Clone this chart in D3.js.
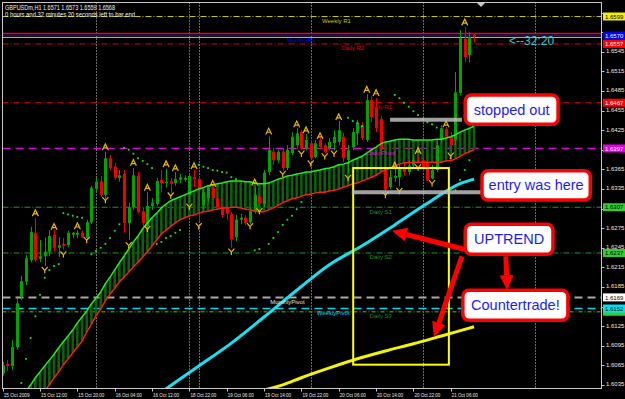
<!DOCTYPE html>
<html>
<head>
<meta charset="utf-8">
<script src="https://cdn.jsdelivr.net/npm/d3@7/dist/d3.min.js"></script>
<style>
body { margin: 0; background: #000; }
svg { display: block; }
</style>
</head>
<body>
<div id="chart1"></div>
<script>
// GBPUSDm H1, bars 15 Oct 04:00 .. 21 Oct 11:00  [open, high, low, close]
var bars = [
	[1.6053,1.6070,1.6049,1.6065],[1.6067,1.6073,1.6056,1.6064],[1.6064,1.6104,1.6058,1.6093],[1.6093,1.6168,1.6089,1.6160],
	[1.6170,1.6202,1.6165,1.6194],[1.6193,1.6234,1.6188,1.6229],[1.6226,1.6277,1.6223,1.6269],[1.6268,1.6291,1.6223,1.6226],
	[1.6228,1.6257,1.6223,1.6232],[1.6232,1.6261,1.6217,1.6239],[1.6239,1.6272,1.6232,1.6263],[1.6265,1.6272,1.6239,1.6245],
	[1.6245,1.6261,1.6231,1.6249],[1.6251,1.6260,1.6242,1.6248],[1.6249,1.6271,1.6246,1.6268],[1.6265,1.6269,1.6260,1.6268],
	[1.6265,1.6272,1.6260,1.6268],[1.6268,1.6271,1.6260,1.6261],[1.6260,1.6288,1.6257,1.6284],[1.6284,1.6340,1.6281,1.6337],
	[1.6335,1.6352,1.6330,1.6346],[1.6347,1.6355,1.6323,1.6326],[1.6326,1.6392,1.6320,1.6382],[1.6382,1.6387,1.6364,1.6367],
	[1.6369,1.6375,1.6349,1.6352],[1.6352,1.6364,1.6346,1.6356],[1.6358,1.6364,1.6268,1.6283],[1.6283,1.6314,1.6257,1.6307],
	[1.6307,1.6367,1.6303,1.6356],[1.6355,1.6361,1.6297,1.6300],[1.6301,1.6306,1.6278,1.6283],[1.6278,1.6330,1.6275,1.6309],
	[1.6309,1.6321,1.6303,1.6314],[1.6312,1.6352,1.6309,1.6347],[1.6349,1.6364,1.6330,1.6344],[1.6344,1.6366,1.6337,1.6346],
	[1.6347,1.6352,1.6329,1.6343],[1.6344,1.6361,1.6340,1.6350],[1.6349,1.6358,1.6344,1.6353],[1.6349,1.6356,1.6346,1.6352],
	[1.6326,1.6358,1.6314,1.6355],[1.6353,1.6364,1.6338,1.6350],[1.6350,1.6355,1.6286,1.6334],[1.6310,1.6335,1.6303,1.6330],
	[1.6321,1.6341,1.6315,1.6337],[1.6337,1.6338,1.6318,1.6321],[1.6321,1.6330,1.6303,1.6307],[1.6307,1.6310,1.6291,1.6295],
	[1.6307,1.6310,1.6288,1.6297],[1.6297,1.6300,1.6245,1.6258],[1.6261,1.6295,1.6255,1.6288],[1.6288,1.6297,1.6281,1.6291],
	[1.6291,1.6295,1.6280,1.6283],[1.6284,1.6307,1.6281,1.6301],[1.6301,1.6337,1.6297,1.6326],[1.6324,1.6327,1.6307,1.6313],
	[1.6312,1.6364,1.6307,1.6360],[1.6361,1.6415,1.6356,1.6395],[1.6392,1.6398,1.6372,1.6379],[1.6379,1.6395,1.6375,1.6392],
	[1.6392,1.6398,1.6363,1.6367],[1.6367,1.6402,1.6364,1.6395],[1.6390,1.6422,1.6387,1.6415],[1.6402,1.6428,1.6397,1.6420],
	[1.6422,1.6425,1.6394,1.6397],[1.6397,1.6419,1.6394,1.6410],[1.6405,1.6410,1.6379,1.6382],[1.6384,1.6410,1.6382,1.6405],
	[1.6410,1.6413,1.6396,1.6399],[1.6402,1.6405,1.6390,1.6391],[1.6397,1.6413,1.6394,1.6407],[1.6405,1.6425,1.6394,1.6415],
	[1.6407,1.6439,1.6402,1.6425],[1.6415,1.6421,1.6376,1.6382],[1.6379,1.6402,1.6359,1.6394],[1.6399,1.6428,1.6394,1.6422],
	[1.6420,1.6441,1.6402,1.6436],[1.6433,1.6437,1.6410,1.6413],[1.6410,1.6480,1.6407,1.6471],[1.6471,1.6477,1.6437,1.6445],
	[1.6460,1.6474,1.6422,1.6428],[1.6442,1.6447,1.6387,1.6395],[1.6364,1.6395,1.6332,1.6334],[1.6338,1.6364,1.6335,1.6353],
	[1.6352,1.6366,1.6346,1.6355],[1.6353,1.6372,1.6339,1.6368],[1.6368,1.6376,1.6355,1.6361],[1.6361,1.6379,1.6356,1.6371],
	[1.6371,1.6387,1.6367,1.6379],[1.6379,1.6385,1.6375,1.6378],[1.6379,1.6382,1.6361,1.6367],[1.6376,1.6384,1.6347,1.6348],
	[1.6351,1.6372,1.6350,1.6364],[1.6364,1.6410,1.6361,1.6402],[1.6410,1.6433,1.6406,1.6428],[1.6427,1.6430,1.6410,1.6415],
	[1.6415,1.6422,1.6393,1.6402],[1.6410,1.6514,1.6402,1.6483],[1.6482,1.6578,1.6478,1.6566],[1.6565,1.6583,1.6529,1.6537],
	[1.6540,1.6575,1.6529,1.6568],[1.6571,1.6573,1.6559,1.6568]
];

// envelope (green upper / red lower), one value per bar
var upperBand = [1.5980,1.5989,1.5998,1.6007,1.6017,1.6026,1.6035,1.6046,1.6055,1.6064,1.6073,1.6082,1.6092,1.6101,1.6110,1.6119,
	1.6130,1.6139,1.6148,1.6159,1.6168,1.6177,1.6190,1.6200,1.6211,1.6222,1.6232,1.6243,1.6254,1.6263,1.6274,1.6283,
	1.6291,1.6298,1.6306,1.6312,1.6317,1.6320,1.6323,1.6326,1.6329,1.6332,1.6335,1.6337,1.6340,1.6341,1.6343,1.6344,
	1.6346,1.6347,1.6347,1.6347,1.6346,1.6346,1.6344,1.6343,1.6343,1.6344,1.6347,1.6350,1.6352,1.6355,1.6356,1.6358,
	1.6359,1.6361,1.6361,1.6363,1.6364,1.6366,1.6367,1.6369,1.6372,1.6373,1.6375,1.6379,1.6382,1.6385,1.6390,1.6395,
	1.6399,1.6404,1.6407,1.6408,1.6410,1.6411,1.6411,1.6411,1.6410,1.6410,1.6410,1.6410,1.6410,1.6411,1.6411,1.6413,
	1.6415,1.6418,1.6422,1.6425,1.6428,1.6431];
var lowerBand = [1.5935,1.5946,1.5955,1.5966,1.5975,1.5986,1.5995,1.6006,1.6015,1.6026,1.6035,1.6046,1.6055,1.6066,1.6075,1.6084,
	1.6093,1.6102,1.6116,1.6128,1.6141,1.6151,1.6164,1.6174,1.6183,1.6193,1.6200,1.6208,1.6216,1.6223,1.6231,1.6239,
	1.6248,1.6257,1.6266,1.6272,1.6278,1.6283,1.6288,1.6291,1.6294,1.6295,1.6298,1.6300,1.6301,1.6303,1.6304,1.6306,
	1.6306,1.6307,1.6307,1.6306,1.6304,1.6303,1.6301,1.6300,1.6300,1.6303,1.6306,1.6310,1.6314,1.6317,1.6320,1.6321,
	1.6324,1.6326,1.6327,1.6329,1.6330,1.6330,1.6332,1.6333,1.6335,1.6338,1.6340,1.6343,1.6344,1.6347,1.6350,1.6353,
	1.6356,1.6361,1.6364,1.6367,1.6370,1.6373,1.6375,1.6375,1.6376,1.6376,1.6376,1.6376,1.6376,1.6376,1.6376,1.6378,
	1.6378,1.6381,1.6385,1.6389,1.6392,1.6395];

// slow moving averages, read at sample bars
var cyanBars = [34, 42, 49, 56, 63, 70, 77, 84, 91, 98, 101];
var cyanMa   = [1.6024, 1.6064, 1.6099, 1.6139, 1.6180, 1.6219, 1.6248, 1.6280, 1.6313, 1.6343, 1.6350];
var yellowBars = [52, 56, 60, 64, 70, 76, 82, 88, 94, 101];
var yellowMa   = [1.6019, 1.6027, 1.6035, 1.6046, 1.6061, 1.6075, 1.6087, 1.6098, 1.6110, 1.6124];

// parabolic SAR dots
var sarBars = [4,5,6,7,8,9,10,11,12, 13,14,15,16,17, 19,20,21,22,23,24,25, 26,27,28,29,30,31,32,
	33,34,35,36,37,38, 42,43,44,45,46,47,48,49,50, 54,55,57,58,59,60,61,62,63,64,
	74,75,76,77, 84,85,86,87,88,89,90,91,92,93, 97,98,99,100];
var sarVals = [1.6038,1.6075,1.6107,1.6140,1.6173,1.6199,1.6211,1.6217,1.6220, 1.6298,1.6296,1.6294,1.6292,1.6291,
	1.6235,1.6240,1.6245,1.6251,1.6260,1.6271,1.6281, 1.6398,1.6395,1.6389,1.6382,1.6378,1.6373,1.6367,
	1.6251,1.6254,1.6260,1.6263,1.6268,1.6272, 1.6372,1.6369,1.6367,1.6364,1.6363,1.6361,1.6360,1.6353,1.6350,
	1.6241,1.6243,1.6251,1.6260,1.6269,1.6280,1.6288,1.6294,1.6304,1.6315,
	1.6444,1.6439,1.6436,1.6431, 1.6479,1.6474,1.6467,1.6461,1.6454,1.6448,1.6442,1.6437,1.6434,1.6429,
	1.6333,1.6349,1.6364,1.6379];

// fractal arrows [bar, price]
var fractalUp = [[7,1.6298],[11,1.6277],[16,1.6278],[22,1.6399],[28,1.6375],[31,1.6337],[35,1.6373],[37,1.6367],
	[41,1.6370],[45,1.6343],[54,1.6345],[57,1.6423],[63,1.6434],[65,1.6425],[68,1.6416],[72,1.6445],
	[78,1.6487],[80,1.6482],[84,1.6371],[89,1.6393],[95,1.6434],[99,1.6590]];
var fractalDown = [[9,1.6211],[13,1.6235],[18,1.6257],[22,1.6318],[27,1.6249],[31,1.6274],[36,1.6325],[40,1.6308],
	[42,1.6278],[49,1.6239],[53,1.6278],[55,1.6301],[60,1.6358],[64,1.6389],[66,1.6374],[69,1.6385],
	[71,1.6389],[74,1.6352],[82,1.6326],[85,1.6332],[89,1.6368],[92,1.6344],[96,1.6386]];

// pivot levels and price lines
var levelNames  = ["Weekly R1", "Ask", "MonthlyR1", "Bid", "Daily R2", "Daily R1", "Daily Pivot", "Daily S1", "Daily S2", "MonthlyPivot", "Daily S3", "WeeklyPivot"];
var levelPrices = [1.6599, 1.6573, 1.6570, 1.6567, 1.6557, 1.6467, 1.6397, 1.6307, 1.6237, 1.6169, 1.6147, 1.6152];

var priceTicks = [1.6605,1.6575,1.6545,1.6515,1.6485,1.6455,1.6425,1.6395,1.6365,1.6335,1.6305,1.6275,1.6245,1.6215,1.6185,1.6155,1.6125,1.6095,1.6065,1.6035];
var timeTicks  = [0, 8, 16, 24, 32, 40, 48, 56, 64, 72, 80, 88, 96];
var timeLabels = ["15 Oct 2009","15 Oct 12:00","15 Oct 20:00","16 Oct 04:00","16 Oct 12:00","18 Oct 22:00","19 Oct 06:00",
	"19 Oct 14:00","19 Oct 22:00","20 Oct 06:00","20 Oct 14:00","20 Oct 22:00","21 Oct 06:00"];
var daySeparators = [20, 40, 42, 66, 90, 114];

var header = ["GBPUSDm,H1  1.6571 1.6573 1.6559 1.6568", "0 hours and 32 minutes 20 seconds left to bar end"];
var countdown = "<--32:20";
var notes = ["stopped out", "entry was here", "UPTREND", "Countertrade!"];

draw_chart();

function draw_chart() {
	var width = 625, height = 399;
	var plot = {left: 2.5, right: 601.5, top: 2.5, bottom: 388.5};

	var x = d3.scaleLinear().domain([0, 100]).range([2.7, 469.4]);
	var y = d3.scaleLinear().domain([1.6599, 1.6152]).range([16.5, 308.5]);

	var svg = d3.select('#chart1')
		.append("svg")
		.attr("width", width)
		.attr("height", height)
		.style("font-family", "'Liberation Sans', Arial, sans-serif");

	svg.append("rect").attr("width", width).attr("height", height).style("fill", "#000");

	svg.append("clipPath").attr("id", "plotclip")
		.append("rect")
		.attr("x", plot.left).attr("y", plot.top)
		.attr("width", plot.right - plot.left).attr("height", plot.bottom - plot.top);

	var g = svg.append("g").attr("clip-path", "url(#plotclip)");

	// period separators
	g.selectAll(".sep")
		.data(daySeparators)
		.enter().append("line")
		.attr("x1", function (d) { return Math.round(x(d)) + 0.5; })
		.attr("x2", function (d) { return Math.round(x(d)) + 0.5; })
		.attr("y1", plot.top).attr("y2", plot.bottom)
		.style("stroke", "#d8d8d8")
		.style("stroke-dasharray", "1,2");

	// level lines
	var levelStyle = {
		"Weekly R1":    {c: "#c8c800", dash: "6,2,1,2", w: 1},
		"Ask":          {c: "#ff0000", dash: null, w: 1.5},
		"MonthlyR1":    {c: "#0000ff", dash: null, w: 1.3},
		"Bid":          {c: "#c0c0c0", dash: null, w: 1},
		"Daily R2":     {c: "#e00000", dash: "6,2,1,2", w: 1},
		"Daily R1":     {c: "#e00000", dash: "6,2,1,2", w: 1},
		"Daily Pivot":  {c: "#e000e0", dash: "8,5", w: 1.3},
		"Daily S1":     {c: "#1f9a1f", dash: "6,2,1,2", w: 1},
		"Daily S2":     {c: "#1f9a1f", dash: "6,2,1,2", w: 1},
		"MonthlyPivot": {c: "#a8a8a8", dash: "8,5", w: 2},
		"WeeklyPivot":  {c: "#00d8e8", dash: "8,5", w: 1.3},
		"Daily S3":     {c: "#1f8a1f", dash: "4,2,1,2", w: 1.5}
	};
	var levels = levelNames.map(function (n, i) { return {name: n, price: levelPrices[i]}; });

	g.selectAll(".lvl")
		.data(levels)
		.enter().append("line")
		.attr("x1", plot.left).attr("x2", plot.right)
		.attr("y1", function (d) { return y(d.price); })
		.attr("y2", function (d) { return y(d.price); })
		.style("stroke", function (d) { return levelStyle[d.name].c; })
		.style("stroke-width", function (d) { return levelStyle[d.name].w; })
		.style("stroke-dasharray", function (d) { return levelStyle[d.name].dash; });

	// envelope hatch
	g.selectAll(".hatch")
		.data(upperBand)
		.enter().append("rect")
		.attr("x", function (d, i) { return x(i) - 1.3; })
		.attr("width", 2.6)
		.attr("y", function (d) { return y(d); })
		.attr("height", function (d, i) { return y(lowerBand[i]) - y(d); })
		.style("fill", "#0b620b");

	// candles
	var candle = g.selectAll(".bar")
		.data(bars)
		.enter().append("g");

	function barColor(d) { return d[3] >= d[0] ? "#00a400" : "#f00000"; }

	candle.append("line")
		.attr("x1", function (d, i) { return Math.round(x(i)) + 0.5; })
		.attr("x2", function (d, i) { return Math.round(x(i)) + 0.5; })
		.attr("y1", function (d) { return y(d[1]); })
		.attr("y2", function (d) { return y(d[2]); })
		.style("stroke", barColor);

	candle.append("rect")
		.attr("x", function (d, i) { return Math.round(x(i)) - 1; })
		.attr("width", 3)
		.attr("y", function (d) { return y(Math.max(d[0], d[3])); })
		.attr("height", function (d) { return Math.max(1, Math.abs(y(d[0]) - y(d[3]))); })
		.style("fill", barColor);

	// envelope lines
	var bandLine = d3.line()
		.x(function (d, i) { return x(i); })
		.y(function (d) { return y(d); });

	g.append("path").attr("d", bandLine(lowerBand))
		.style("fill", "none").style("stroke", "#ff1a1a").style("stroke-width", 1.5);
	g.append("path").attr("d", bandLine(upperBand))
		.style("fill", "none").style("stroke", "#22ee22").style("stroke-width", 1.5);

	// moving averages
	var maLine = d3.line()
		.curve(d3.curveMonotoneX)
		.x(function (d) { return x(d[0]); })
		.y(function (d) { return y(d[1]); });

	g.append("path")
		.attr("d", maLine(cyanBars.map(function (b, i) { return [b, cyanMa[i]]; })))
		.style("fill", "none").style("stroke", "#18e0f0").style("stroke-width", 3);
	g.append("path")
		.attr("d", maLine(yellowBars.map(function (b, i) { return [b, yellowMa[i]]; })))
		.style("fill", "none").style("stroke", "#f4f400").style("stroke-width", 3);

	// SAR
	g.selectAll(".sar")
		.data(sarBars)
		.enter().append("rect")
		.attr("x", function (d) { return x(d) - 0.9; })
		.attr("y", function (d, i) { return y(sarVals[i]) - 0.9; })
		.attr("width", 1.8).attr("height", 1.8)
		.style("fill", "#22e022");

	// fractals
	g.selectAll(".fup")
		.data(fractalUp)
		.enter().append("path")
		.attr("transform", function (d) { return "translate(" + x(d[0]) + "," + y(d[1]) + ")"; })
		.attr("d", "M-3,3 L0,-3.2 L3,3 M-1.6,0.8 L1.6,0.8")
		.style("fill", "none").style("stroke", "#eab800").style("stroke-width", 1.2);

	g.selectAll(".fdn")
		.data(fractalDown)
		.enter().append("path")
		.attr("transform", function (d) { return "translate(" + x(d[0]) + "," + y(d[1]) + ")"; })
		.attr("d", "M-3,-3 L0,0.5 L3,-3 M0,0.5 L0,3.3")
		.style("fill", "none").style("stroke", "#eab800").style("stroke-width", 1.2);

	// level captions
	var captionAt = {
		"Weekly R1": 71.5, "MonthlyR1": 64, "Daily R2": 75, "Daily R1": 81, "Daily Pivot": 81,
		"Daily S1": 81, "Daily S2": 81, "MonthlyPivot": 61, "WeeklyPivot": 70.8, "Daily S3": 81
	};
	g.selectAll(".cap")
		.data(levels.filter(function (d) { return captionAt[d.name] !== undefined; }))
		.enter().append("text")
		.attr("x", function (d) { return x(captionAt[d.name]); })
		.attr("y", function (d) { return y(d.price) + 6.5; })
		.attr("text-anchor", "middle")
		.style("font-size", "6px")
		.style("fill", function (d) { return d.name == "MonthlyPivot" ? "#e0e0e0" : levelStyle[d.name].c; })
		.text(function (d) { return d.name; });

	// annotations
	var ann = g.append("g");

	ann.append("rect")
		.attr("x", x(75.1)).attr("y", y(1.6367))
		.attr("width", x(95.6) - x(75.1)).attr("height", y(1.6066) - y(1.6367))
		.style("fill", "none").style("stroke", "#ffff00").style("stroke-width", 2);

	var greyBars = [[83.0, 98.4, 1.6441], [74.8, 102.6, 1.6330]];
	ann.selectAll(".gbar")
		.data(greyBars)
		.enter().append("line")
		.attr("x1", function (d) { return x(d[0]); })
		.attr("x2", function (d) { return x(d[1]); })
		.attr("y1", function (d) { return y(d[2]); })
		.attr("y2", function (d) { return y(d[2]); })
		.style("stroke", "#bdbdbd").style("stroke-width", 4).style("opacity", 0.85);

	var arrows = [[99.3, 1.6242, 83.4, 1.6271], [98.4, 1.6232, 92.4, 1.6108], [107.8, 1.6232, 108.1, 1.6180]];
	arrows.forEach(function (a) {
		var x1 = x(a[0]), y1 = y(a[1]), x2 = x(a[2]), y2 = y(a[3]);
		var ang = Math.atan2(y2 - y1, x2 - x1);
		var len = 15, half = 7;
		var bx = x2 - len * Math.cos(ang), by = y2 - len * Math.sin(ang);
		ann.append("line")
			.attr("x1", x1).attr("y1", y1).attr("x2", bx).attr("y2", by)
			.style("stroke", "#ff0000").style("stroke-width", 5);
		ann.append("path")
			.attr("d", "M" + x2 + "," + y2 +
				"L" + (bx + half * Math.sin(ang)) + "," + (by - half * Math.cos(ang)) +
				"L" + (bx - half * Math.sin(ang)) + "," + (by + half * Math.cos(ang)) + "Z")
			.style("fill", "#ff0000");
	});

	var noteBoxes = [[99.1, 119.0, 1.6479, 1.6434], [102.7, 125.9, 1.6363, 1.6318], [99.1, 117.9, 1.6281, 1.6235], [98.6, 121.1, 1.6180, 1.6134]];
	var note = ann.selectAll(".note")
		.data(notes)
		.enter().append("g");
	note.append("rect")
		.attr("x", function (d, i) { return x(noteBoxes[i][0]); })
		.attr("y", function (d, i) { return y(noteBoxes[i][2]); })
		.attr("width", function (d, i) { return x(noteBoxes[i][1]) - x(noteBoxes[i][0]); })
		.attr("height", function (d, i) { return y(noteBoxes[i][3]) - y(noteBoxes[i][2]); })
		.attr("rx", 6)
		.style("fill", "#fff").style("stroke", "#ff0000").style("stroke-width", 3.5);
	note.append("text")
		.attr("x", function (d, i) { return (x(noteBoxes[i][0]) + x(noteBoxes[i][1])) / 2; })
		.attr("y", function (d, i) { return (y(noteBoxes[i][2]) + y(noteBoxes[i][3])) / 2 + 5; })
		.attr("text-anchor", "middle")
		.style("font-size", "14.5px")
		.style("fill", "#1c1cf0")
		.text(function (d) { return d; });

	// countdown
	g.append("text")
		.attr("x", x(108.5)).attr("y", y(1.6563) + 4.5)
		.style("font-size", "12px")
		.style("fill", "#3cc8c8")
		.text(countdown);

	// chart shift marker
	svg.append("path")
		.attr("d", "M477,3 L485,3 L481,7 Z")
		.style("fill", "#c8c8c8");

	// frame
	svg.append("rect")
		.attr("x", plot.left).attr("y", plot.top)
		.attr("width", plot.right - plot.left).attr("height", plot.bottom - plot.top)
		.style("fill", "none").style("stroke", "#c8c8c8");

	// price axis
	var boxFill = {
		"Weekly R1": "#f0f000", "MonthlyR1": "#0000ff", "Daily R2": "#ff0000", "Daily R1": "#ff0000",
		"Daily Pivot": "#e000e0", "Daily S1": "#33cc33", "Daily S2": "#33cc33", "MonthlyPivot": "#ffffff",
		"Daily S3": "#33cc33", "WeeklyPivot": "#00e0f0"
	};
	var boxText = {"MonthlyR1": "#fff", "Daily R2": "#fff", "Daily R1": "#fff", "Daily Pivot": "#fff"};
	var boxed = levels.filter(function (d) { return boxFill[d.name] !== undefined; });

	// tick labels hidden behind a level box are not drawn
	var freeTicks = priceTicks.filter(function (t) {
		return boxed.every(function (b) { return Math.abs(y(b.price) - y(t)) > 5; });
	});

	var pa = svg.append("g");
	pa.selectAll(".pt")
		.data(priceTicks)
		.enter().append("line")
		.attr("x1", plot.right).attr("x2", plot.right + 3)
		.attr("y1", function (d) { return Math.round(y(d)) + 0.5; })
		.attr("y2", function (d) { return Math.round(y(d)) + 0.5; })
		.style("stroke", "#c8c8c8");
	pa.selectAll(".pl")
		.data(freeTicks)
		.enter().append("text")
		.attr("x", 606).attr("y", function (d) { return y(d) + 1.5; })
		.style("font-size", "6px").style("fill", "#e8e8e8")
		.text(function (d) { return d.toFixed(4); });

	var bx = pa.selectAll(".pb")
		.data(boxed)
		.enter().append("g");
	bx.append("rect")
		.attr("x", 603).attr("y", function (d) { return y(d.price) - 4; })
		.attr("width", 22).attr("height", 8)
		.style("fill", function (d) { return boxFill[d.name]; });
	// S3 box sits under the weekly pivot box, only its edge shows
	bx.filter(function (d) { return d.name != "Daily S3"; })
		.append("text")
		.attr("x", 605).attr("y", function (d) { return y(d.price) + 2.2; })
		.style("font-size", "6px")
		.style("fill", function (d) { return boxText[d.name] || "#000"; })
		.text(function (d) { return d.price.toFixed(4); });

	// time axis
	var ta = svg.append("g");
	ta.selectAll(".tt")
		.data(timeTicks)
		.enter().append("line")
		.attr("x1", function (d) { return Math.round(x(d)) + 0.5; })
		.attr("x2", function (d) { return Math.round(x(d)) + 0.5; })
		.attr("y1", plot.bottom).attr("y2", plot.bottom + 3)
		.style("stroke", "#c8c8c8");
	ta.selectAll(".tl")
		.data(timeTicks)
		.enter().append("text")
		.attr("x", function (d) { return x(d) + 1; })
		.attr("y", 396.5)
		.attr("textLength", 26).attr("lengthAdjust", "spacingAndGlyphs")
		.style("font-size", "6px").style("fill", "#e8e8e8")
		.text(function (d, i) { return timeLabels[i]; });

	// header
	svg.selectAll(".hdr")
		.data(header)
		.enter().append("text")
		.attr("x", 5)
		.attr("y", function (d, i) { return 9.5 + i * 7; })
		.attr("textLength", function (d, i) { return i == 0 ? 110 : 130; })
		.attr("lengthAdjust", "spacingAndGlyphs")
		.style("font-size", "6.5px").style("fill", "#f0f0f0")
		.text(function (d) { return d; });
}
</script>
</body>
</html>
